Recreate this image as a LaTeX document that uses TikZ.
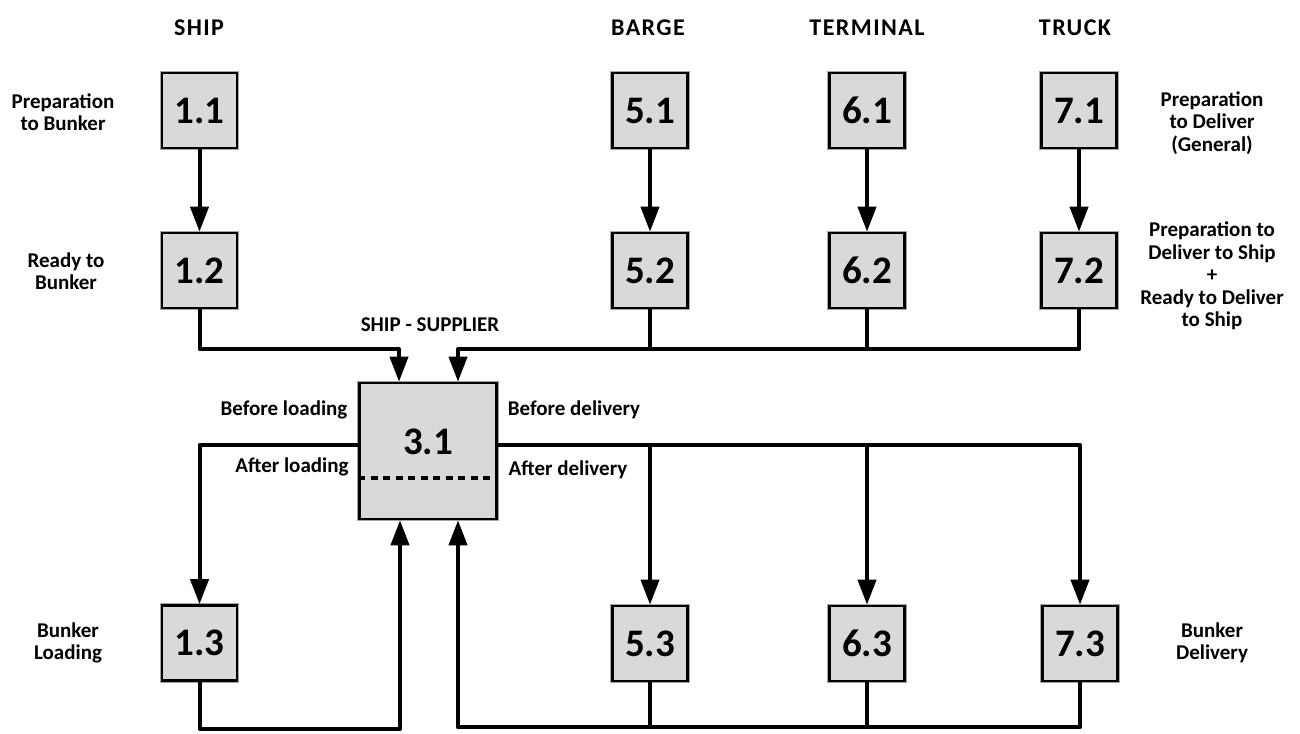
\documentclass[tikz,border=0pt]{standalone}
\usepackage{fontspec}
\setmainfont{Carlito}
\usetikzlibrary{arrows.meta,calc}
\definecolor{boxgray}{HTML}{D9D9D9}
\tikzset{
  numbox/.style={draw=black, line width=2.6pt, fill=boxgray, minimum width=75pt, minimum height=75pt, inner sep=0pt,
    preaction={draw=gray!70, line width=4.2pt},
    font=\fontsize{39}{40}\selectfont\bfseries},
  bigbox/.style={numbox, minimum width=137pt, minimum height=136pt},
  numtext/.style={font=\fontsize{39}{40}\selectfont\bfseries, inner sep=0pt},
  lbl/.style={font=\fontsize{21}{22.5}\selectfont\bfseries, align=center, inner sep=0pt},
  ttl/.style={font=\fontsize{24}{26}\selectfont\bfseries\addfontfeature{LetterSpace=6}, inner sep=0pt},
  conn/.style={line width=4pt, line join=round},
  arr/.style={conn, -{Triangle[length=25pt,width=18pt]}},
}
\begin{document}
\begin{tikzpicture}[x=1pt,y=-1pt]
\useasboundingbox (0,0) rectangle (1300,733);
% titles
\node[ttl] (tship) at (199,28) {SHIP};
\node[ttl] (tbarge) at (648,28) {BARGE};
\node[ttl] (tterm) at (867,28) {TERMINAL};
\node[ttl] (ttruck) at (1075,28) {TRUCK};
% boxes
\node[numbox] (b11) at (199.5,110.5) {1.1};
\node[numbox] (b12) at (199.5,270.5) {1.2};
\node[numbox] (b13) at (199.5,643) {1.3};
\node[numbox] (b51) at (650,110.5) {5.1};
\node[numbox] (b52) at (650,270.5) {5.2};
\node[numbox] (b53) at (650,643.5) {5.3};
\node[numbox] (b61) at (867,110.5) {6.1};
\node[numbox] (b62) at (867,270.5) {6.2};
\node[numbox] (b63) at (867,643.5) {6.3};
\node[numbox] (b71) at (1079,110.5) {7.1};
\node[numbox] (b72) at (1079,270.5) {7.2};
\node[numbox] (b73) at (1080,643.5) {7.3};
\node[bigbox] (b31) at (428,451) {};
\node[numtext] (b31t) at (428,442) {3.1};
\draw[line width=3.5pt, dash pattern=on 7pt off 5.5pt] ([yshift=-27pt]b31.west) -- ([yshift=-27pt]b31.east);
% labels
\node[lbl] (l11) at (63,112) {Preparation\\to Bunker};
\node[lbl] (l12) at (66,271) {Ready to\\Bunker};
\node[lbl] (l13) at (68,643) {Bunker\\Loading};
\node[lbl] (l71) at (1212,123) {Preparation\\to Deliver\\(General)};
\node[lbl] (l72) at (1212,276) {Preparation to\\Deliver to Ship\\+\\Ready to Deliver\\to Ship};
\node[lbl] (l73) at (1212,643) {Bunker\\Delivery};
\node[lbl] (lss) at (430,325) {SHIP - SUPPLIER};
\node[lbl] (lbl1) at (284,410) {Before loading};
\node[lbl] (lbd) at (574,410) {Before delivery};
\node[lbl] (lal) at (292,467) {After loading};
\node[lbl] (lad) at (568,470) {After delivery};
% top arrows
\draw[arr] (b11.south) -- (b12.north);
\draw[arr] (b51.south) -- (b52.north);
\draw[arr] (b61.south) -- (b62.north);
\draw[arr] (b71.south) -- (b72.north);
% row 2 to 3.1
\draw[arr] (b12.south) -- ++(0,40) -| ([xshift=-29pt]b31.north);
\draw[arr] (b72.south) -- ++(0,40) -| ([xshift=30pt]b31.north);
\draw[conn] (b52.south) -- ++(0,40);
\draw[conn] (b62.south) -- ++(0,40);
% 3.1 to bottom row
\coordinate (lw) at ([yshift=6pt]b31.west);
\coordinate (re) at ([yshift=6pt]b31.east);
\draw[arr] (lw) -| (b13.north);
\draw[arr] (re) -| (b73.north);
\draw[arr] (re -| b53.north) -- (b53.north);
\draw[arr] (re -| b63.north) -- (b63.north);
% bottom row back to 3.1
\draw[arr] (b13.south) -- ++(0,47) -| ([xshift=-28pt]b31.south);
\draw[arr] (b73.south) -- ++(0,45) -| ([xshift=30pt]b31.south);
\draw[conn] (b53.south) -- ++(0,45);
\draw[conn] (b63.south) -- ++(0,45);
\end{tikzpicture}
\end{document}
